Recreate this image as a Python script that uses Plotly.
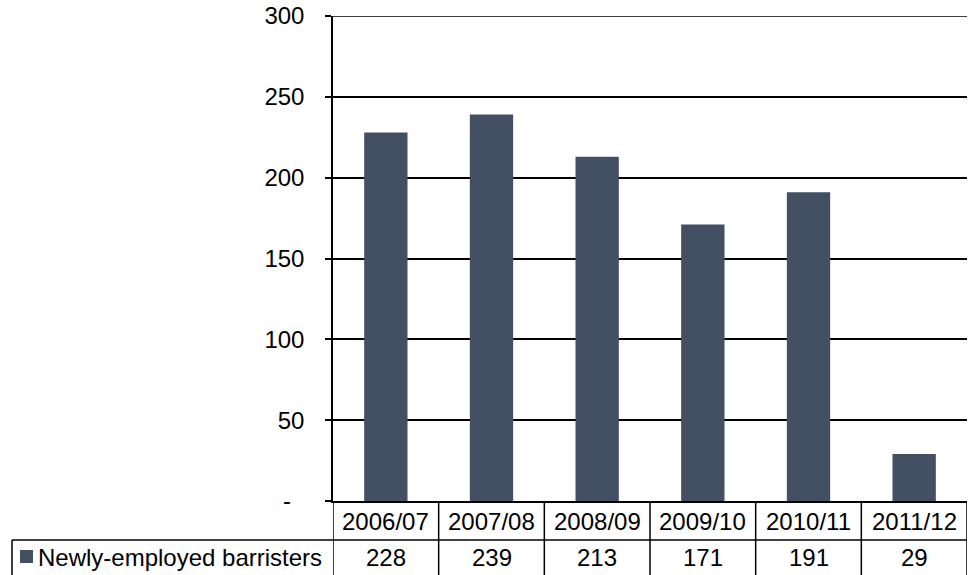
import plotly.graph_objects as go

categories = ["2006/07", "2007/08", "2008/09", "2009/10", "2010/11", "2011/12"]
values = [228, 239, 213, 171, 191, 29]
series_name = "Newly-employed barristers"
tick_vals = [0, 50, 100, 150, 200, 250, 300]
tick_text = ["-\u00a0\u00a0", "50", "100", "150", "200", "250", "300"]
y_max = 300

W, H = 973, 575
L, R, T, B = 333, 6, 16, 74
pw, ph = W - L - R, H - T - B

def py(pix):
    return (H - B - pix) / ph

def px(pix):
    return (pix - L) / pw

bar_color = "#434F62"
font = dict(family="Liberation Sans, Arial, sans-serif", size=24, color="black")

fig = go.Figure()
fig.add_trace(go.Bar(x=categories, y=values, marker=dict(color=bar_color, line=dict(width=0)),
                     width=0.41, name=series_name, showlegend=False))

shapes = []
line = dict(color="black", width=1.5)
# top gridline (plotly omits the grid line at the range edge)
shapes.append(dict(type="line", xref="paper", yref="y", x0=px(327), x1=1, y0=y_max, y1=y_max, line=line))
shapes.append(dict(type="line", xref="paper", yref="paper", x0=px(12), x1=1, y0=py(540), y1=py(540), line=line))
shapes.append(dict(type="line", xref="paper", yref="paper", x0=px(12), x1=px(12), y0=py(540), y1=py(585), line=line))
for i in range(len(categories) + 1):
    xv = i - 0.5
    shapes.append(dict(type="line", xref="x", yref="paper", x0=xv, x1=xv, y0=0, y1=py(585), line=line))
shapes.append(dict(type="rect", xref="paper", yref="paper", x0=px(20), x1=px(33), y0=py(550), y1=py(563),
                   fillcolor=bar_color, line=dict(width=0)))

annotations = []
for c, v in zip(categories, values):
    annotations.append(dict(x=c, xref="x", y=py(521), yref="paper", text=c, showarrow=False,
                            xanchor="center", yanchor="middle", font=font))
    annotations.append(dict(x=c, xref="x", y=py(557), yref="paper", text=str(v), showarrow=False,
                            xanchor="center", yanchor="middle", font=font))
annotations.append(dict(x=px(36), xref="paper", y=py(557), yref="paper", text=series_name, showarrow=False,
                        xanchor="left", yanchor="middle", font=font))

fig.update_layout(
    width=W, height=H,
    margin=dict(l=L, r=R, t=T, b=B, pad=0, autoexpand=False),
    paper_bgcolor="white", plot_bgcolor="white",
    font=font,
    xaxis=dict(type="category", range=[-0.5, len(categories) - 0.5], showticklabels=False,
               showgrid=False, zeroline=False, showline=True, linecolor="black", linewidth=1.5,
               ticks="", automargin=False),
    yaxis=dict(range=[0, y_max], tickvals=tick_vals, ticktext=tick_text, showgrid=True,
               gridcolor="black", gridwidth=1.5, zeroline=False, showline=True, linecolor="black",
               linewidth=1.5, ticks="outside", ticklen=6, tickcolor="black", tickwidth=1.5,
               ticklabelstandoff=16, ticklabeloverflow="allow", tickfont=font, automargin=False),
    shapes=shapes,
    annotations=annotations,
)

fig.write_html("out.html", config={"displayModeBar": False},
               post_script="document.body.style.margin='0';")
